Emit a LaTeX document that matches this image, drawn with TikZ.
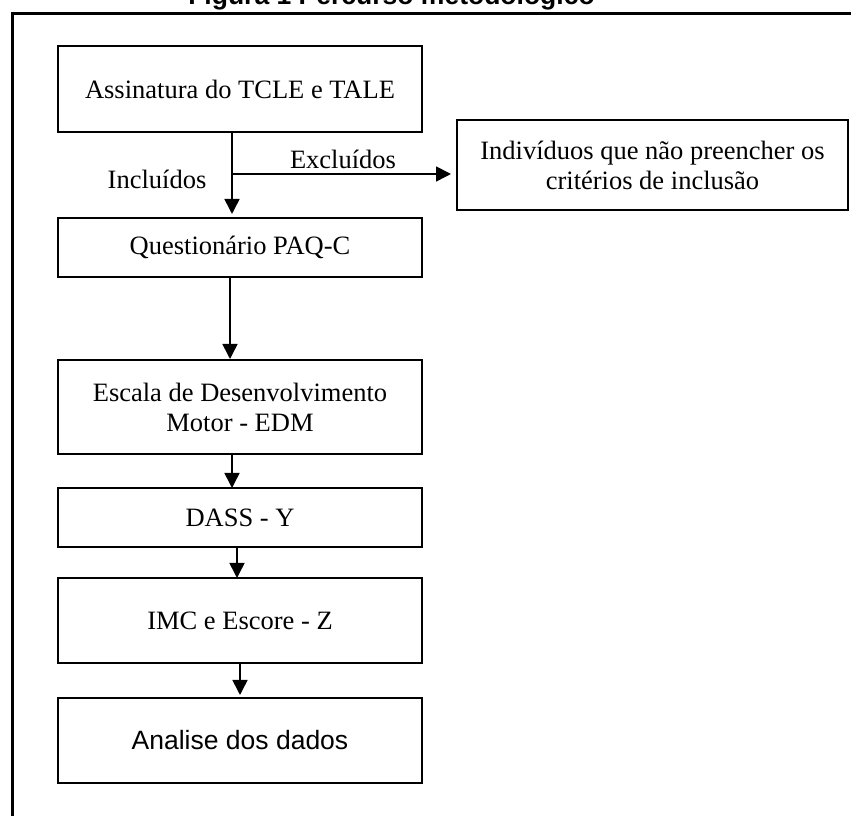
\documentclass[tikz,border=0pt]{standalone}
\usepackage{fontspec}
\setmainfont{Liberation Serif}
\newfontfamily\arialfont{Liberation Sans}
\usetikzlibrary{positioning,arrows.meta}

\begin{document}
\begin{tikzpicture}[x=1pt, y=1pt,
  every node/.style={font=\fontsize{26.5}{30}\selectfont},
  box/.style={draw, line width=1.3pt, align=center, minimum width=364pt, outer sep=0pt, inner sep=4pt},
  arr/.style={-{Triangle[length=15pt,width=15pt]}, line width=1.6pt}]
\useasboundingbox (0,0) rectangle (851,816);
% moldura e titulo
\draw[line width=3.5pt] (12.5,-10) -- (12.5,802.5) -- (870,802.5);
\node[font=\arialfont\bfseries\fontsize{26.5}{30}\selectfont, anchor=base] (titulo) at (391.5,811.5) {Figura 1 Percurso metodológico};

\node[box, minimum height=86pt] (tcle) at (240,727) {Assinatura do TCLE e TALE};
\node[box, minimum width=391pt, minimum height=90pt, right=35pt of tcle, yshift=-76pt] (excl) {Indivíduos que não preencher os\\critérios de inclusão};
\node[box, minimum height=59pt, below=86pt of tcle] (paqc) {Questionário PAQ-C};
\node[box, minimum height=94pt, below=83pt of paqc] (edm) {Escala de Desenvolvimento\\Motor - EDM};
\node[box, minimum height=59pt, below=34pt of edm] (dass) {DASS - Y};
\node[box, minimum height=85pt, below=31pt of dass] (imc) {IMC e Escore - Z};
\node[box, minimum height=85pt, below=35pt of imc, font=\arialfont\fontsize{26.5}{30}\selectfont] (dados) {Analise dos dados};

% setas
\coordinate (split) at ([xshift=-8pt,yshift=-42pt]tcle.south);
\draw[arr, shorten >=4pt] ([xshift=-8pt]tcle.south) -- ([xshift=-8pt]paqc.north);
\draw[arr, shorten >=6pt] (split) -- (split -| excl.west);
\node (excluidos) at ([xshift=111pt,yshift=15pt]split) {Excluídos};
\node (incluidos) at ([xshift=-75pt,yshift=-5pt]split) {Incluídos};
\draw[arr, shorten >=1pt] ([xshift=-10pt]paqc.south) -- ([xshift=-10pt]edm.north);
\draw[arr] ([xshift=-8pt]edm.south) -- ([xshift=-8pt]dass.north);
\draw[arr] ([xshift=-3pt]dass.south) -- ([xshift=-3pt]imc.north);
\draw[arr, shorten >=3pt] (imc.south) -- (dados.north);
\end{tikzpicture}
\end{document}
